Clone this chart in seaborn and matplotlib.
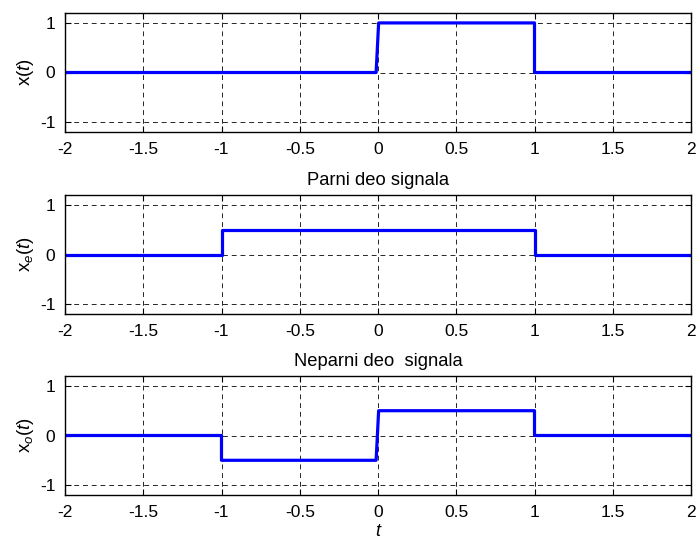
import matplotlib
matplotlib.use('Agg')
import matplotlib.pyplot as plt
import seaborn as sns

# signal breakpoints
t_x = [-2, -0.012, 0.004, 1, 1, 2]
x_vals = [0, 0, 1, 1, 0, 0]

t_e = [-2, -1, -1, 1, 1, 2]
xe_vals = [0, 0, 0.5, 0.5, 0, 0]

t_o = [-2, -1, -1, -0.012, 0.004, 1, 1, 2]
xo_vals = [0, 0, -0.5, -0.5, 0.5, 0.5, 0, 0]

x_ticks = [-2, -1.5, -1, -0.5, 0, 0.5, 1, 1.5, 2]
x_tick_labels = ['-2', '-1.5', '-1', '-0.5', '0', '0.5', '1', '1.5', '2']
y_ticks = [-1, 0, 1]
y_tick_labels = ['-1', '0', '1']

titles = [None, 'Parni deo signala', 'Neparni deo  signala']
ylabels = [r'x($\it{t}$)', r'x$_{\it{e}}$($\it{t}$)', r'x$_{\it{o}}$($\it{t}$)']

sns.set_style('ticks')
plt.rcParams['font.family'] = ['Liberation Sans', 'DejaVu Sans']
plt.rcParams['mathtext.fontset'] = 'custom'
plt.rcParams['mathtext.rm'] = 'Liberation Sans'
plt.rcParams['mathtext.it'] = 'Liberation Sans:italic'
plt.rcParams['axes.unicode_minus'] = False
plt.rcParams['text.color'] = 'black'
plt.rcParams['axes.labelcolor'] = 'black'

fig = plt.figure(figsize=(6.98, 5.45), dpi=100)
W, H = 698, 545
left, right = 65, 691
tops = [13, 195, 376]
height = 119

series = [(t_x, x_vals), (t_e, xe_vals), (t_o, xo_vals)]

for i, (tt, yy) in enumerate(series):
    top = tops[i]
    ax = fig.add_axes([left / W, 1 - (top + height) / H, (right - left) / W, height / H])
    sns.lineplot(x=tt, y=yy, ax=ax, color='blue', linewidth=2.3,
                 sort=False, estimator=None)
    ax.set_xlim(-2, 2)
    ax.set_ylim(-1.2, 1.2)
    ax.set_xticks(x_ticks)
    ax.set_xticklabels(x_tick_labels)
    ax.set_yticks(y_ticks)
    ax.set_yticklabels(y_tick_labels)
    ax.grid(True, color='0.15', linestyle=(0, (5, 4)), linewidth=0.7)
    for sp in ax.spines.values():
        sp.set_visible(True)
        sp.set_color('black')
        sp.set_linewidth(1.0)
    ax.tick_params(direction='in', top=True, right=True, length=4, width=0.8,
                   labelsize=12.5, pad=7, colors='black')
    ax.set_ylabel(ylabels[i], fontsize=13.5, labelpad=2.5)
    if titles[i]:
        ax.set_title(titles[i], fontsize=13.2, pad=7, color='black')
    if i == 2:
        ax.set_xlabel('t', fontsize=13, style='italic', labelpad=2)

fig.savefig('out.png', dpi=100)
